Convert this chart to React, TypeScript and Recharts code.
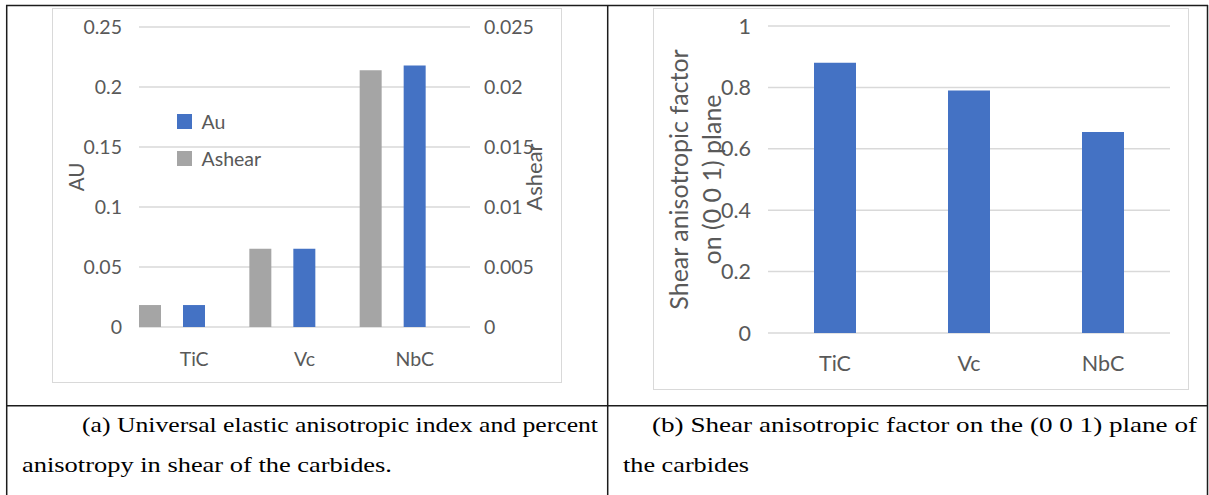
import React from 'react';
import { BarChart, Bar, XAxis, YAxis, CartesianGrid, Legend } from 'recharts';

// Carbides compared in both panels
const carbides = ['TiC', 'Vc', 'NbC'];

// (a) universal elastic anisotropic index (left axis) and shear anisotropy (right axis)
const auValues = [0.0183, 0.0653, 0.218];
const ashearValues = [0.00183, 0.00653, 0.0214];

// (b) shear anisotropic factor on the (0 0 1) plane
const shearFactorValues = [0.88, 0.79, 0.655];

const auTicks = [0, 0.05, 0.1, 0.15, 0.2, 0.25];
const ashearTicks = [0, 0.005, 0.01, 0.015, 0.02, 0.025];
const factorTicks = [0, 0.2, 0.4, 0.6, 0.8, 1];

const legendOrder = ['Au', 'Ashear'];
const factorTitle = ['Shear anisotropic factor', 'on (0 0 1) plane'];

const captionA = ['(a) Universal elastic anisotropic index and percent', 'anisotropy in shear of the carbides.'];
const captionB = ['(b) Shear anisotropic factor on the (0 0 1) plane of', 'the carbides'];

const BLUE = '#4472c4';
const GREY = '#a5a5a5';
const TEXT = '#595959';
const GRID = '#d9d9d9';
const FONT = 'Lato, "Open Sans", sans-serif';
const SERIF = "'Liberation Serif', 'Times New Roman', Times, serif";
const RULE = '#1c1c1c';

const indexData = carbides.map((name, i) => ({ name, Au: auValues[i], Ashear: ashearValues[i] }));
const factorData = carbides.map((name, i) => ({ name, factor: shearFactorValues[i] }));

type TitleProps = { viewBox?: any; lines: string[]; offsets: number[]; fontSize: number };

// Rotated axis title, one or more lines, centred on the axis band
function VerticalTitle({ viewBox, lines, offsets, fontSize }: TitleProps) {
  if (!viewBox) return null;
  const cy = viewBox.y + viewBox.height / 2;
  return (
    <g>
      {lines.map((line, i) => {
        const cx = viewBox.x + offsets[i];
        return (
          <text
            key={line}
            x={cx}
            y={cy}
            transform={`rotate(-90 ${cx} ${cy})`}
            textAnchor="middle"
            dominantBaseline="central"
            fill={TEXT}
            fontSize={fontSize}
            fontFamily={FONT}
          >
            {line}
          </text>
        );
      })}
    </g>
  );
}

function IndexLegend({ payload }: any) {
  const items = legendOrder
    .map((n) => (payload || []).find((p: any) => p.value === n))
    .filter(Boolean);
  return (
    <div style={{ fontFamily: FONT, fontSize: 19.5, color: TEXT }}>
      {items.map((p: any) => (
        <div key={p.value} style={{ display: 'flex', alignItems: 'center', height: 37 }}>
          <span style={{ display: 'inline-block', width: 15, height: 15, background: p.color, marginRight: 9.5 }} />
          <span>{p.value}</span>
        </div>
      ))}
    </div>
  );
}

const smallTick = { fill: TEXT, fontSize: 19.5, fontFamily: FONT };
const largeTick = { fill: TEXT, fontSize: 21.5, fontFamily: FONT };

function IndexChart() {
  return (
    <BarChart
      width={510}
      height={375}
      data={indexData}
      margin={{ top: 19, right: 0, bottom: 0, left: 0 }}
      barCategoryGap={0}
      barGap={0}
    >
      <CartesianGrid vertical={false} yAxisId="au" stroke={GRID} strokeWidth={1.5} />
      <XAxis
        dataKey="name"
        height={56}
        tickSize={0}
        tickMargin={25}
        axisLine={false}
        tickLine={false}
        tick={smallTick}
        interval={0}
      />
      <YAxis
        yAxisId="au"
        orientation="left"
        width={87}
        domain={[0, 0.25]}
        ticks={auTicks}
        tickSize={0}
        tickMargin={17}
        axisLine={false}
        tickLine={false}
        tick={smallTick}
        label={<VerticalTitle lines={['AU']} offsets={[24]} fontSize={20.5} />}
      />
      <YAxis
        yAxisId="ashear"
        orientation="right"
        width={92}
        domain={[0, 0.025]}
        ticks={ashearTicks}
        tickSize={0}
        tickMargin={14}
        axisLine={false}
        tickLine={false}
        tick={smallTick}
        label={<VerticalTitle lines={['Ashear']} offsets={[63]} fontSize={22} />}
      />
      <Bar yAxisId="ashear" dataKey="Ashear" name="Ashear" fill={GREY} isAnimationActive={false} />
      <Bar yAxisId="au" dataKey="spacerA" legendType="none" fill="none" isAnimationActive={false} />
      <Bar yAxisId="au" dataKey="Au" name="Au" fill={BLUE} isAnimationActive={false} />
      <Bar yAxisId="au" dataKey="spacerB" legendType="none" fill="none" isAnimationActive={false} />
      <Bar yAxisId="au" dataKey="spacerC" legendType="none" fill="none" isAnimationActive={false} />
      <Legend
        layout="vertical"
        align="center"
        verticalAlign="middle"
        wrapperStyle={{ left: 125, top: 95, width: 'auto' }}
        content={<IndexLegend />}
      />
    </BarChart>
  );
}

function FactorChart() {
  return (
    <BarChart
      width={536}
      height={382}
      data={factorData}
      margin={{ top: 18, right: 19, bottom: 0, left: 0 }}
      barCategoryGap={46}
    >
      <CartesianGrid vertical={false} stroke={GRID} strokeWidth={1.5} />
      <XAxis
        dataKey="name"
        height={57}
        tickSize={0}
        tickMargin={23}
        axisLine={false}
        tickLine={false}
        tick={largeTick}
        interval={0}
      />
      <YAxis
        width={115}
        domain={[0, 1]}
        ticks={factorTicks}
        tickSize={0}
        tickMargin={17}
        axisLine={false}
        tickLine={false}
        tick={largeTick}
        label={<VerticalTitle lines={factorTitle} offsets={[25, 58]} fontSize={25} />}
      />
      <Bar dataKey="factor" fill={BLUE} isAnimationActive={false} />
    </BarChart>
  );
}

const captionStyle = { fontFamily: SERIF, fontSize: '21px' } as React.CSSProperties;

export default function App() {
  return (
    <div style={{ position: 'absolute', left: 0, top: 0, width: 1209, height: 495, background: '#fff', overflow: 'hidden' }}>
      <svg width={1209} height={495} style={{ position: 'absolute', left: 0, top: 0 }}>
        {/* table rules */}
        <line x1={6} y1={5.5} x2={1208} y2={5.5} stroke={RULE} strokeWidth={1.5} />
        <line x1={6.7} y1={5} x2={6.7} y2={495} stroke={RULE} strokeWidth={1.5} />
        <line x1={607.7} y1={5} x2={607.7} y2={495} stroke={RULE} strokeWidth={1.5} />
        <line x1={1207.5} y1={5} x2={1207.5} y2={495} stroke={RULE} strokeWidth={1.5} />
        <line x1={6} y1={405.7} x2={1208} y2={405.7} stroke={RULE} strokeWidth={1.5} />
        {/* captions */}
        <text x={82} y={432} style={captionStyle} fill="#000" textLength={516} lengthAdjust="spacingAndGlyphs">{captionA[0]}</text>
        <text x={22} y={472} style={captionStyle} fill="#000" textLength={370} lengthAdjust="spacingAndGlyphs">{captionA[1]}</text>
        <text x={652} y={432} style={captionStyle} fill="#000" textLength={545} lengthAdjust="spacingAndGlyphs">{captionB[0]}</text>
        <text x={623} y={472} style={captionStyle} fill="#000" textLength={126} lengthAdjust="spacingAndGlyphs">{captionB[1]}</text>
      </svg>

      <div style={{ position: 'absolute', left: 52, top: 8, width: 510, height: 375, border: `1.5px solid ${GRID}`, boxSizing: 'border-box' }} />
      <div style={{ position: 'absolute', left: 52, top: 8 }}>
        <IndexChart />
      </div>

      <div style={{ position: 'absolute', left: 653, top: 8, width: 536, height: 382, border: `1.5px solid ${GRID}`, boxSizing: 'border-box' }} />
      <div style={{ position: 'absolute', left: 653, top: 8 }}>
        <FactorChart />
      </div>
    </div>
  );
}
